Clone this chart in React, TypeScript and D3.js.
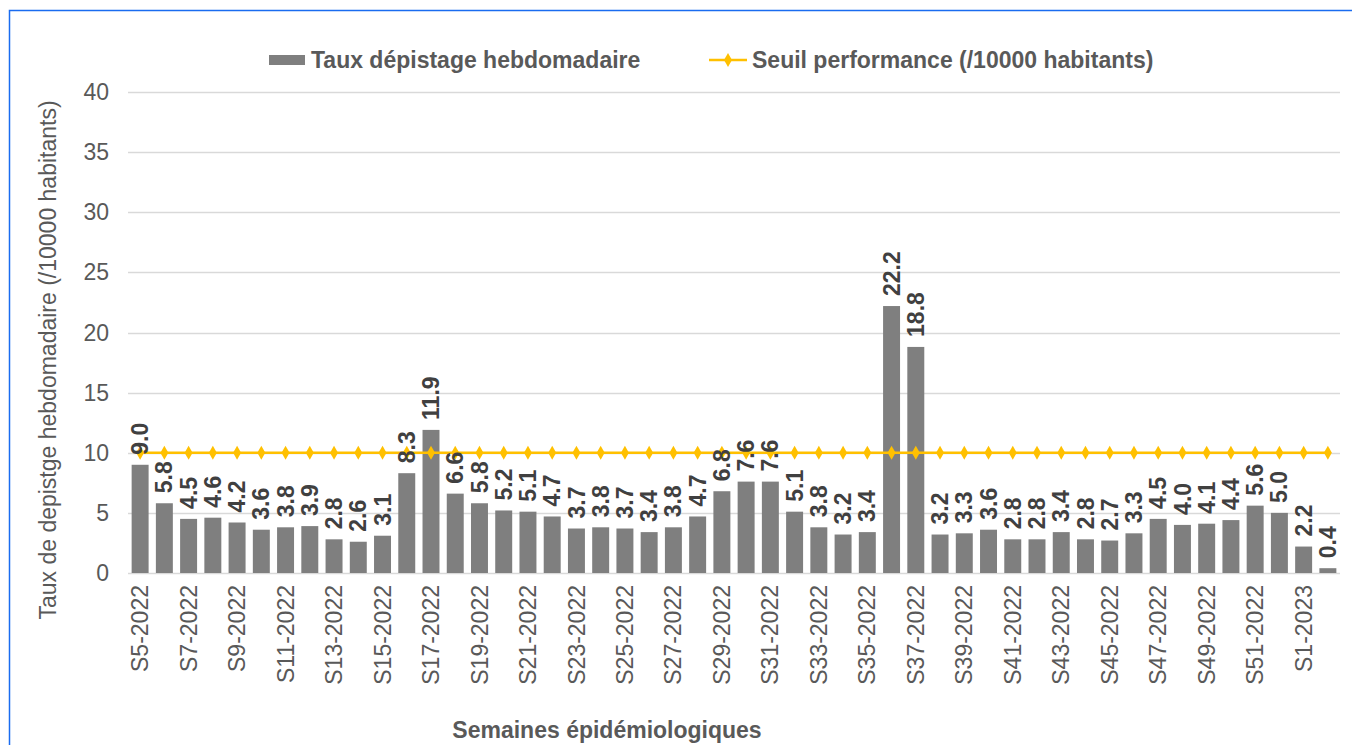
import React, { useRef, useEffect } from 'react'
import * as d3 from 'd3'

// semaines épidémiologiques S5-2022 .. S2-2023
const weeks: string[] = [
  ...d3.range(5, 53).map(w => `S${w}-2022`),
  'S1-2023', 'S2-2023'
]

const tauxDepistage: number[] = [
  9.0, 5.8, 4.5, 4.6, 4.2, 3.6, 3.8, 3.9, 2.8, 2.6,
  3.1, 8.3, 11.9, 6.6, 5.8, 5.2, 5.1, 4.7, 3.7, 3.8,
  3.7, 3.4, 3.8, 4.7, 6.8, 7.6, 7.6, 5.1, 3.8, 3.2,
  3.4, 22.2, 18.8, 3.2, 3.3, 3.6, 2.8, 2.8, 3.4, 2.8,
  2.7, 3.3, 4.5, 4.0, 4.1, 4.4, 5.6, 5.0, 2.2, 0.4
]

const seuilPerformance: number[] = weeks.map(() => 10)

const yTicks: number[] = [0, 5, 10, 15, 20, 25, 30, 35, 40]

const legendLabels = ['Taux dépistage hebdomadaire', 'Seuil performance (/10000 habitants)']

const W = 1352
const H = 745
const FONT = '"Liberation Sans", Arial, sans-serif'

const App: React.FC = () => {
  const svgRef = useRef<SVGSVGElement>(null)

  useEffect(() => {
    if (!svgRef.current) return
    d3.select(svgRef.current).selectAll('*').remove()

    const svg = d3.select(svgRef.current)
      .attr('width', W)
      .attr('height', H)
      .style('font-family', FONT)

    const margin = { left: 128, right: 12, top: 92, bottom: 172 }
    const innerW = W - margin.left - margin.right
    const innerH = H - margin.top - margin.bottom

    const x = d3.scaleBand<string>()
      .domain(weeks)
      .range([margin.left, margin.left + innerW])
      .paddingInner(0.3)
      .paddingOuter(0.15)

    const y = d3.scaleLinear()
      .domain([0, 40])
      .range([margin.top + innerH, margin.top])

    // cadre bleu
    svg.append('rect')
      .attr('x', 9.5)
      .attr('y', 10.5)
      .attr('width', W)
      .attr('height', H)
      .attr('fill', '#fff')
      .attr('stroke', '#1a6cf0')
      .attr('stroke-width', 1.5)

    // grille
    svg.append('g')
      .selectAll('line')
      .data(yTicks)
      .enter().append('line')
      .attr('x1', margin.left)
      .attr('x2', margin.left + innerW)
      .attr('y1', d => Math.round(y(d)) + 0.5)
      .attr('y2', d => Math.round(y(d)) + 0.5)
      .attr('stroke', '#d9d9d9')
      .attr('stroke-width', 1.5)

    // axe Y
    svg.append('g')
      .selectAll('text')
      .data(yTicks)
      .enter().append('text')
      .attr('x', 109)
      .attr('y', d => y(d))
      .attr('dy', '0.35em')
      .attr('text-anchor', 'end')
      .attr('font-size', '23px')
      .attr('fill', '#595959')
      .text(d => d)

    svg.append('text')
      .attr('transform', `translate(56, 360) rotate(-90)`)
      .attr('text-anchor', 'middle')
      .attr('font-size', '23px')
      .attr('fill', '#595959')
      .text('Taux de depistge hebdomadaire (/10000 habitants)')

    // barres
    svg.append('g')
      .selectAll('rect')
      .data(tauxDepistage)
      .enter().append('rect')
      .attr('x', (d, i) => x(weeks[i])!)
      .attr('y', d => y(d))
      .attr('width', x.bandwidth())
      .attr('height', d => y(0) - y(d))
      .attr('fill', '#7f7f7f')

    // ligne seuil
    const line = d3.line<number>()
      .x((d, i) => x(weeks[i])! + x.bandwidth() / 2)
      .y(d => y(d))

    svg.append('path')
      .datum(seuilPerformance)
      .attr('d', line)
      .attr('fill', 'none')
      .attr('stroke', '#ffc000')
      .attr('stroke-width', 2.5)

    const diamond = d3.symbol().type(d3.symbolDiamond).size(55)
    svg.append('g')
      .selectAll('path')
      .data(seuilPerformance)
      .enter().append('path')
      .attr('transform', (d, i) => `translate(${x(weeks[i])! + x.bandwidth() / 2}, ${y(d)})`)
      .attr('d', diamond)
      .attr('fill', '#ffc000')

    // étiquettes de données (au-dessus de la ligne)
    svg.append('g')
      .selectAll('text')
      .data(tauxDepistage)
      .enter().append('text')
      .attr('transform', (d, i) => `translate(${x(weeks[i])! + x.bandwidth() / 2}, ${y(d) - 10}) rotate(-90)`)
      .attr('dy', '0.35em')
      .attr('text-anchor', 'start')
      .attr('font-size', '23px')
      .attr('font-weight', 'bold')
      .attr('fill', '#404040')
      .text(d => d.toFixed(1))

    // axe X
    svg.append('g')
      .selectAll('text')
      .data(weeks.filter((w, i) => i % 2 === 0))
      .enter().append('text')
      .attr('transform', d => `translate(${x(d)! + x.bandwidth() / 2}, ${y(0) + 12}) rotate(-90)`)
      .attr('dy', '0.35em')
      .attr('text-anchor', 'end')
      .attr('font-size', '23px')
      .attr('fill', '#595959')
      .text(d => d)

    svg.append('text')
      .attr('x', 607)
      .attr('y', 738)
      .attr('text-anchor', 'middle')
      .attr('font-size', '23px')
      .attr('font-weight', 'bold')
      .attr('fill', '#595959')
      .text('Semaines épidémiologiques')

    // légende
    const legend = svg.append('g')
    legend.append('rect')
      .attr('x', 269)
      .attr('y', 55)
      .attr('width', 36)
      .attr('height', 10)
      .attr('fill', '#7f7f7f')
    legend.append('text')
      .attr('x', 311)
      .attr('y', 60)
      .attr('dy', '0.35em')
      .attr('font-size', '23px')
      .attr('font-weight', 'bold')
      .attr('fill', '#595959')
      .text(legendLabels[0])

    legend.append('line')
      .attr('x1', 709)
      .attr('x2', 747)
      .attr('y1', 60)
      .attr('y2', 60)
      .attr('stroke', '#ffc000')
      .attr('stroke-width', 2.5)
    legend.append('path')
      .attr('transform', 'translate(728, 60)')
      .attr('d', diamond)
      .attr('fill', '#ffc000')
    legend.append('text')
      .attr('x', 752)
      .attr('y', 60)
      .attr('dy', '0.35em')
      .attr('font-size', '23px')
      .attr('font-weight', 'bold')
      .attr('fill', '#595959')
      .text(legendLabels[1])
  }, [])

  return (
    <div style={{ position: 'absolute', left: 0, top: 0 }}>
      <svg ref={svgRef} style={{ display: 'block' }} />
    </div>
  )
}

export default App
